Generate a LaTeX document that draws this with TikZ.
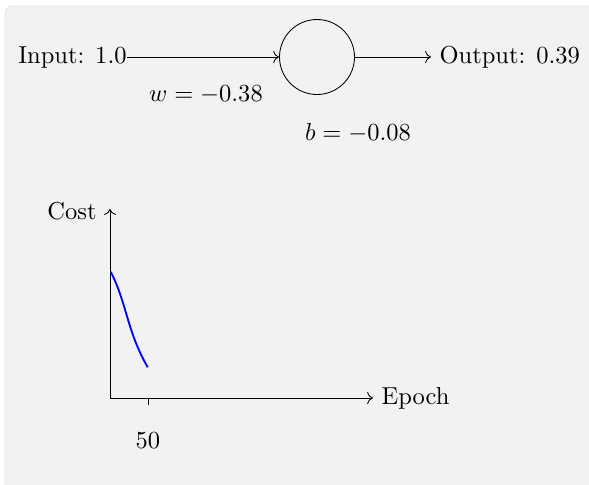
\documentclass[tikz,border=0pt]{standalone}
\usetikzlibrary{arrows.meta}
\begin{document}
\begin{tikzpicture}[x=0.408pt,y=-0.408pt,line width=0.35pt,
  bgbox/.style={fill=black!5,draw=black!9,rounded corners=3pt},
  neuron/.style={circle,draw,minimum size=30.6pt,inner sep=0pt},
  conn/.style={->},
  lbl/.style={inner sep=0pt},
  axis/.style={->},
  costcurve/.style={blue,line width=0.75pt}]
\useasboundingbox (0,0) rectangle (589,484);
\path[bgbox] (5,6) rectangle (600,500);
% neuron
\node[lbl,anchor=east] (in) at (127,57) {Input: 1.0};
\node[neuron] (n) at (317,57) {};
\node[anchor=west] (out) at (431,57) {Output: 0.39};
\draw[conn] (in.east) -- (n.west);
\draw[conn] (n.east) -- (out.west);
\node (w) at (206,95) {$w = -0.38$};
\node (b) at (358,133) {$b = -0.08$};
% plot
\coordinate (o) at (110,398);
\coordinate (ytip) at (110,209);
\coordinate (xtip) at (373,398);
\draw[axis] (o) -- (ytip);
\draw[axis] (o) -- (xtip);
\node (cost) at (72,211) {Cost};
\node[anchor=west] (epoch) at (xtip) {Epoch};
\coordinate (t1) at (148,398);
\coordinate (t2) at (148,405);
\draw (t1) -- (t2);
\node (fifty) at (148,441) {50};
\coordinate (c0) at (110.7,271.7);
\coordinate (c1) at (147.7,367.3);
\draw[costcurve] (c0) .. controls (127.4,304.7) and (126.4,329.9) .. (c1);
\end{tikzpicture}
\end{document}
